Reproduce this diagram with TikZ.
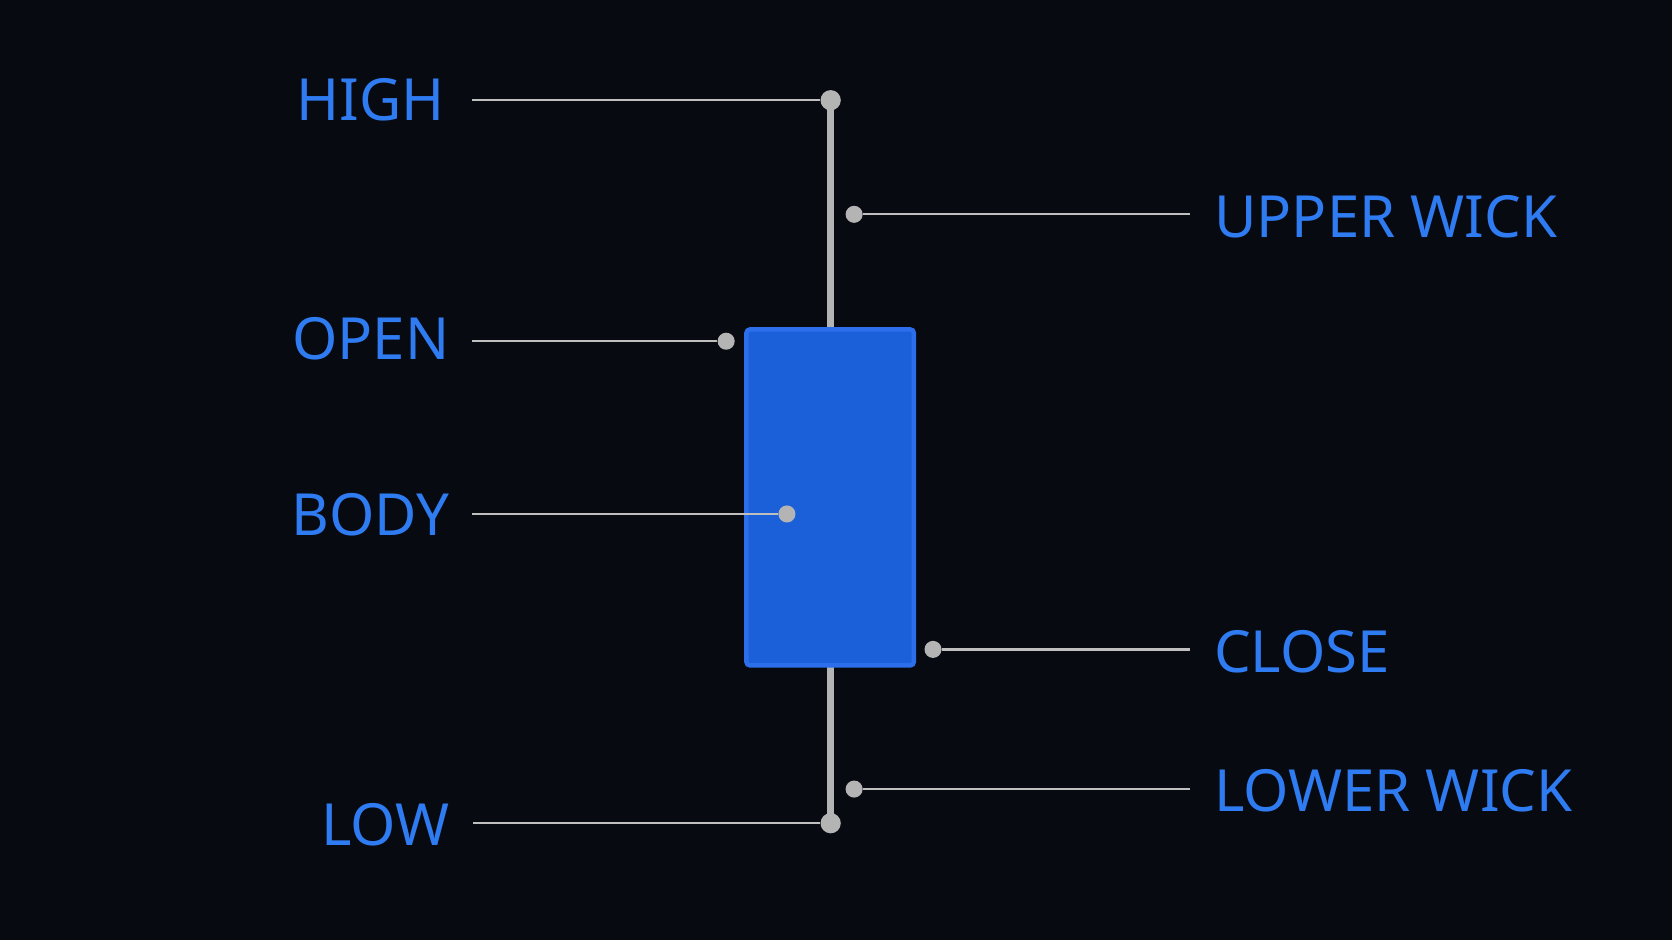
\documentclass[tikz,border=0pt]{standalone}
\usepackage{fontspec}
\setsansfont{Noto Sans}
\usetikzlibrary{positioning}
\definecolor{bg}{HTML}{070A10}
\definecolor{bodyblue}{HTML}{1B60D8}
\definecolor{edgeblue}{HTML}{2C6EEC}
\definecolor{labelblue}{HTML}{2F7BF2}
\definecolor{wickgray}{HTML}{B4B4B4}
\tikzset{
  x=0.01cm, y=-0.01cm,
  font=\sffamily\bfseries,
  tag/.style={text=labelblue, font=\sffamily\bfseries\fontsize{15.5}{18}\selectfont, inner sep=0pt},
  pin dot/.style={circle, fill=wickgray, inner sep=0pt, minimum size=0.16cm},
  big dot/.style={pin dot, minimum size=0.19cm},
  leader/.style={draw=wickgray!85, line width=0.6pt},
  wick/.style={draw=wickgray, line width=1.8pt}
}
\begin{document}
\begin{tikzpicture}
\fill[bg] (0,0) rectangle (1568,882);
% candle
\coordinate (top) at (779,94);
\coordinate (bot) at (779,772);
\path[wick] (top) -- (bot);
\node[draw=edgeblue, fill=bodyblue, line width=1.2pt, rounded corners=1pt,
  minimum width=1.57cm, minimum height=3.15cm, inner sep=0pt] (body) at (778.5,466.5) {};
% dots
\node[big dot] (high) at (top) {};
\node[big dot] (low)  at (bot) {};
\node[pin dot] (upper) at (801,201) {};
\node[pin dot] (open)  at (681,320) {};
\node[pin dot] (mid)   at (738,482) {};
\node[pin dot] (close) at (875,609) {};
\node[pin dot] (lower) at (801,740) {};
% left labels
\node[tag, anchor=east] (thigh) at (418,94)  {HIGH};
\node[tag, anchor=east] (topen) at (422,318) {OPEN};
\node[tag, anchor=east] (tbody) at (422,483) {BODY};
\node[tag, anchor=east] (tlow)  at (422,773) {LOW};
% right labels
\node[tag, anchor=west] (tupper) at (1138,203) {UPPER WICK};
\node[tag, anchor=west] (tclose) at (1138,611) {CLOSE};
\node[tag, anchor=west] (tlower) at (1138,742) {LOWER WICK};
% leaders
\path[leader] (443,94)  -- (high);
\path[leader] (443,320) -- (open);
\path[leader] (443,482) -- (mid);
\path[leader] (444,772) -- (low);
\path[leader] (upper) -- (1116,201);
\path[leader] (close) -- (1116,609);
\path[leader] (lower) -- (1116,740);
\end{tikzpicture}
\end{document}
